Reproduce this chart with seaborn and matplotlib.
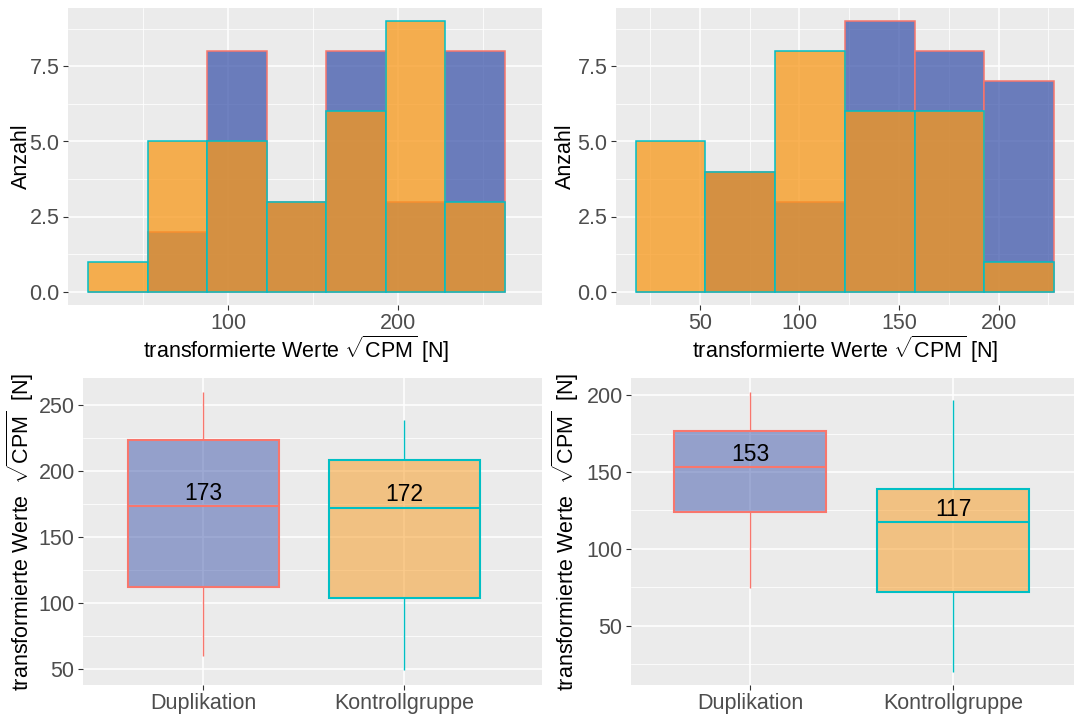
import numpy as np
import pandas as pd
import matplotlib
matplotlib.use("Agg")
import matplotlib.pyplot as plt
import seaborn as sns

# ---------------- data ----------------
groups = ["Duplikation", "Kontrollgruppe"]

# histogram bins and counts (top row)
bin_edges_left = [17.8, 52.8, 87.8, 122.8, 157.8, 192.8, 227.8, 262.8]
counts_left_dup = [0, 2, 8, 3, 8, 3, 8]
counts_left_kon = [1, 5, 5, 3, 6, 9, 3]

bin_edges_right = [17.8, 52.8, 87.8, 122.8, 157.8, 192.8, 227.8]
counts_right_dup = [0, 4, 3, 9, 8, 7]
counts_right_kon = [5, 4, 8, 6, 6, 1]

# five-number summaries (min, Q1, median, Q3, max) (bottom row)
box_left_dup = [59.7, 112.5, 173.3, 224.0, 260.0]
box_left_kon = [48.9, 104.2, 172.4, 208.8, 239.1]
box_right_dup = [74.8, 123.9, 153.4, 176.5, 202.0]
box_right_kon = [20.0, 71.7, 117.4, 139.3, 197.2]

# tick labels
x_ticks_hist_left = [100, 200]
x_ticks_hist_right = [50, 100, 150, 200]
y_ticks_hist = [0.0, 2.5, 5.0, 7.5]
y_ticks_box_left = [50, 100, 150, 200, 250]
y_ticks_box_right = [50, 100, 150, 200]

# ---------------- style ----------------
fill_col = {"Duplikation": "#3F57AC", "Kontrollgruppe": "#F8981A"}
edge_col = {"Duplikation": "#F8766D", "Kontrollgruppe": "#00BFC4"}

TICK_FS = 15.5
TITLE_FS = 15.5
LABEL_FS = 16.5

sns.set_theme(style="darkgrid", rc={
    "axes.facecolor": "#EBEBEB",
    "figure.facecolor": "white",
    "grid.color": "white",
})
plt.rcParams["font.family"] = ["Liberation Sans", "DejaVu Sans"]
plt.rcParams["mathtext.fontset"] = "custom"
plt.rcParams["mathtext.rm"] = "Liberation Sans"
plt.rcParams["mathtext.it"] = "Liberation Sans:italic"
plt.rcParams["mathtext.bf"] = "Liberation Sans:bold"

W, H = 1075, 715
fig = plt.figure(figsize=(W / 100, H / 100), dpi=100)


def add_ax(left, right, top, bottom):
    return fig.add_axes([left / W, (H - bottom) / H, (right - left) / W, (bottom - top) / H])


def style(ax, xmajor, xminor, ymajor, yminor, xlim, ylim, ylabels=None):
    if xmajor is not None:
        ax.set_xticks(xmajor)
        ax.set_xticks(xminor, minor=True)
    ax.set_yticks(ymajor)
    if ylabels is not None:
        ax.set_yticklabels(ylabels)
    ax.set_yticks(yminor, minor=True)
    ax.set_xlim(*xlim)
    ax.set_ylim(*ylim)
    ax.grid(True, which="major", color="white", linewidth=1.1)
    ax.grid(True, which="minor", color="white", linewidth=0.55)
    ax.set_axisbelow(True)
    for s in ax.spines.values():
        s.set_visible(False)
    ax.tick_params(which="major", bottom=True, left=True, length=3.5, width=0.8,
                   color="#333333", labelcolor="#4D4D4D", labelsize=TICK_FS, pad=2.5)
    ax.tick_params(which="minor", length=0)


xlabel_txt = r"transformierte Werte $\sqrt{\mathrm{CPM}}$ [N]"
ylabel_box_txt = r"transformierte Werte  $\sqrt{\mathrm{CPM}}$  [N]"


def draw_hist(ax, edges, c_dup, c_kon):
    edges = [float(e) for e in edges]
    centers = [(a + b) / 2 for a, b in zip(edges[:-1], edges[1:])]
    for g, counts in (("Duplikation", c_dup), ("Kontrollgruppe", c_kon)):
        d = pd.DataFrame({"x": centers, "w": [float(c) for c in counts]})
        sns.histplot(data=d, x="x", weights="w", bins=edges, ax=ax, color=fill_col[g],
                     alpha=0.75, edgecolor=edge_col[g], linewidth=1.1)
    ax.set_xlabel(xlabel_txt, fontsize=TITLE_FS, color="black")
    ax.set_ylabel("Anzahl", fontsize=TITLE_FS, color="black")


def draw_box(ax, stats_dup, stats_kon):
    df = pd.DataFrame({
        "group": ["Duplikation"] * len(stats_dup) + ["Kontrollgruppe"] * len(stats_kon),
        "value": list(stats_dup) + list(stats_kon),
    })
    for g in groups:
        sub = df[df["group"] == g]
        rgba = matplotlib.colors.to_rgba(fill_col[g], 0.5)
        sns.boxplot(data=sub, x="group", y="value", order=groups, ax=ax,
                    color=fill_col[g], linecolor=edge_col[g], width=0.75,
                    whis=(0, 100), showcaps=False, linewidth=1.5, fliersize=0,
                    boxprops=dict(facecolor=rgba),
                    whiskerprops=dict(linewidth=1.0))
    for i, st in enumerate([stats_dup, stats_kon]):
        med = st[2]
        ax.annotate(f"{round(med)}", xy=(i, med), xytext=(0, 4.5), textcoords="offset points",
                    ha="center", va="baseline", fontsize=LABEL_FS, color="black")
    ax.set_xlabel("")
    ax.set_ylabel(ylabel_box_txt, fontsize=TITLE_FS, color="black")


# top-left
ax1 = add_ax(68, 542, 8, 305)
draw_hist(ax1, bin_edges_left, counts_left_dup, counts_left_kon)
style(ax1, x_ticks_hist_left, [50, 150, 250], y_ticks_hist, [1.25, 3.75, 6.25, 8.75],
      (5.9, 284.7), (-0.45, 9.45), ["0.0", "2.5", "5.0", "7.5"])

# top-right
ax2 = add_ax(616, 1074, 8, 305)
draw_hist(ax2, bin_edges_right, counts_right_dup, counts_right_kon)
style(ax2, x_ticks_hist_right, [25, 75, 125, 175, 225], y_ticks_hist, [1.25, 3.75, 6.25, 8.75],
      (8.0, 237.8), (-0.45, 9.45), ["0.0", "2.5", "5.0", "7.5"])

# bottom-left
ax3 = add_ax(83, 542, 378, 685)
draw_box(ax3, box_left_dup, box_left_kon)
style(ax3, None, None, y_ticks_box_left, [75, 125, 175, 225],
      (-0.6, 1.686), (37.8, 270.8))
ax3.xaxis.grid(True, which="major", color="white", linewidth=1.1)

# bottom-right
ax4 = add_ax(631, 1074, 378, 685)
draw_box(ax4, box_right_dup, box_right_kon)
style(ax4, None, None, y_ticks_box_right, [25, 75, 125, 175],
      (-0.586, 1.595), (11.3, 211.3))
ax4.xaxis.grid(True, which="major", color="white", linewidth=1.1)

# label positions
ax1.xaxis.set_label_coords((296.5 - 68) / 474, -0.095)
ax2.xaxis.set_label_coords(0.5, -0.095)
ax1.yaxis.set_label_coords((32 - 68) / 474, 0.5)
ax2.yaxis.set_label_coords((576 - 616) / 458, 0.5)
ax3.yaxis.set_label_coords((36 - 83) / 459, 0.5)
ax4.yaxis.set_label_coords((581 - 631) / 443, 0.5)

fig.savefig("out.png", dpi=100)
